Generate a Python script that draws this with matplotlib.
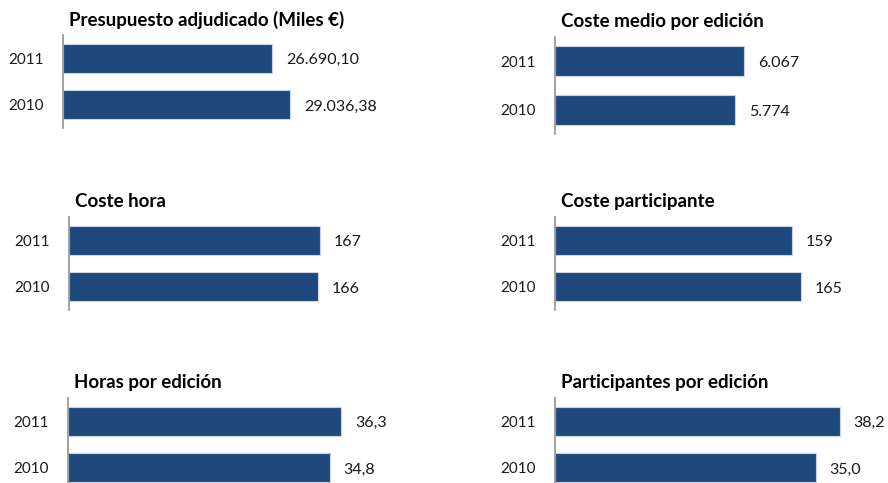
import matplotlib.pyplot as plt

plt.rcParams['font.family'] = ['Lato', 'DejaVu Sans']

# DATA
years = ["2010", "2011"]
titles = ["Presupuesto adjudicado (Miles €)", "Coste medio por edición",
          "Coste hora", "Coste participante",
          "Horas por edición", "Participantes por edición"]
presupuesto = [29036.38, 26690.10]
coste_edicion = [5774, 6067]
coste_hora = [166, 167]
coste_participante = [165, 159]
horas_edicion = [34.8, 36.3]
participantes_edicion = [35.0, 38.2]
decimals = [2, 0, 0, 0, 1, 1]
series = [presupuesto, coste_edicion, coste_hora, coste_participante,
          horas_edicion, participantes_edicion]

# layout in pixels: left, top of axes, width, height, xmax
W, H = 888, 483
layout = [
    (63, 35, 274, 93, 35000),
    (555, 37, 312, 97, 10000),
    (69, 217, 300, 93, 200),
    (555, 217, 298, 93, 200),
    (68, 398, 301, 93, 40),
    (555, 398, 298, 93, 40),
]

BAR = '#1F497D'
TXT = '#1a1a1a'


def fmt_es(v, d):
    s = f"{v:,.{d}f}"
    return s.replace(",", "X").replace(".", ",").replace("X", ".")


fig = plt.figure(figsize=(W / 100, H / 100), dpi=100)
fig.patch.set_facecolor('white')

for title, vals, d, (lx, ty, w, h, xmax) in zip(titles, series, decimals, layout):
    ax = fig.add_axes([lx / W, (H - ty - h) / H, w / W, h / H])
    ax.barh(years, vals, height=0.62, color=BAR, edgecolor='#c9d3e3', linewidth=0.8)
    ax.set_xlim(0, xmax)
    ax.set_ylim(-0.5, 1.5)
    for s in ['top', 'right', 'bottom']:
        ax.spines[s].set_visible(False)
    ax.spines['left'].set_color('#9a9a9a')
    ax.spines['left'].set_linewidth(1.3)
    ax.set_xticks([])
    ax.tick_params(axis='y', length=0, pad=14, labelsize=11, labelcolor=TXT)
    for i, v in enumerate(vals):
        ax.annotate(fmt_es(v, d), xy=(v, i), xytext=(10, -1.5), textcoords='offset points',
                    va='center', ha='left', fontsize=11.5, color=TXT,
                    annotation_clip=False)
    ax.annotate(title, xy=(0, 1), xycoords='axes fraction', xytext=(4, 11),
                textcoords='offset points', va='center', ha='left',
                fontsize=13.5, fontweight='bold', color='black')

fig.savefig('out.png', dpi=100, facecolor='white')
